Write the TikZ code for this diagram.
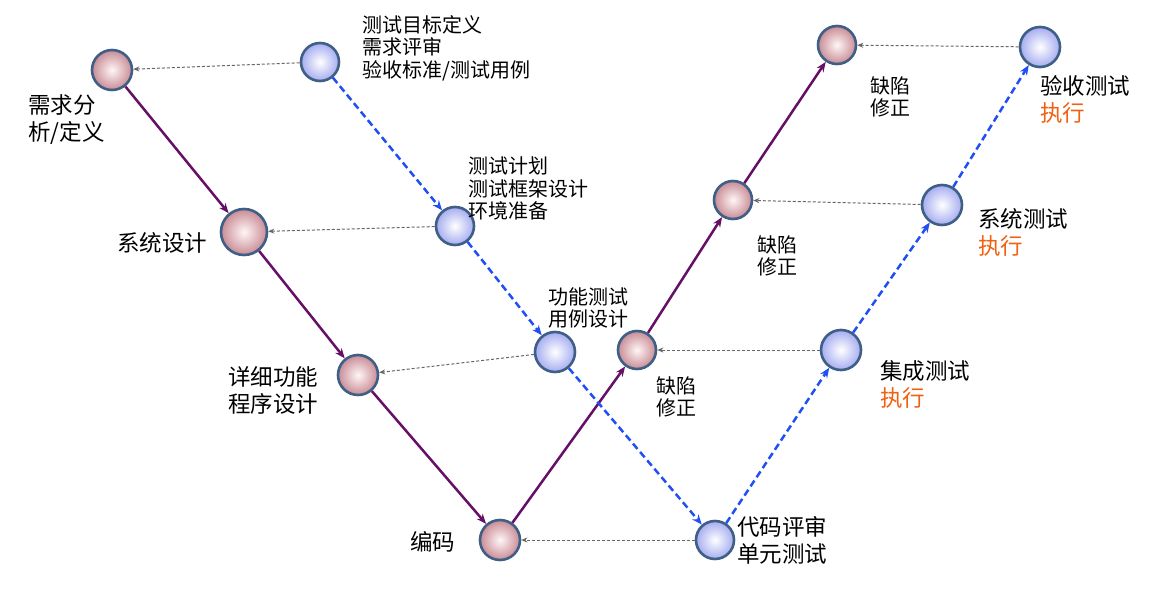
\documentclass[tikz,border=0pt]{standalone}
\usepackage{fontspec}
\newfontfamily\cjk{Noto Sans CJK SC}
\usetikzlibrary{arrows.meta}
\definecolor{purp}{HTML}{660F66}
\definecolor{bl}{HTML}{1F4FF5}
\definecolor{org}{HTML}{F06010}
\definecolor{rim}{HTML}{3F5F86}
\begin{document}
\begin{tikzpicture}[x=1pt,y=-1pt,
 ball/.style={circle,draw=rim,line width=2.6pt,minimum size=#1},
 pk/.style={ball=#1,inner color=white!85!pink,outer color={rgb,255:red,200;green,140;blue,150}},
 bu/.style={ball=#1,inner color=white,outer color={rgb,255:red,165;green,172;blue,240}},
 pa/.style={-{Stealth[length=10pt,width=8pt]},purp,line width=2.5pt},
 ba/.style={-{Stealth[length=10pt,width=8pt]},bl,line width=2.5pt,dash pattern=on 7pt off 4pt},
 ga/.style={-{Stealth[length=6pt,width=5pt]},gray!80!black,line width=1pt,dash pattern=on 3pt off 2pt},
 big/.style={font=\cjk\fontsize{22.5}{27}\selectfont,align=left,inner sep=0pt},
 sm/.style={font=\cjk\fontsize{20}{22.5}\selectfont,align=left,inner sep=0pt}]
\useasboundingbox (0,0) rectangle (1152,596);
\node[pk=40pt] (r1) at (112,70) {};
\node[pk=46pt] (r2) at (244,232) {};
\node[pk=40pt] (r3) at (358,375) {};
\node[pk=40pt] (r4) at (500,540) {};
\node[pk=38pt] (p1) at (637,350) {};
\node[pk=38pt] (p2) at (733,200) {};
\node[pk=38pt] (p3) at (837,45) {};
\node[bu=38pt] (b1) at (320,62) {};
\node[bu=38pt] (b2) at (455,226) {};
\node[bu=40pt] (b3) at (555,352) {};
\node[bu=38pt] (b4) at (715,540) {};
\node[bu=40pt] (b5) at (841,350) {};
\node[bu=40pt] (b6) at (942,205) {};
\node[bu=40pt] (b7) at (1040,47) {};
\draw[pa] (r1)--(r2); \draw[pa] (r2)--(r3); \draw[pa] (r3)--(r4);
\draw[pa] (r4)--(p1); \draw[pa] (p1)--(p2); \draw[pa] (p2)--(p3);
\draw[ba] (b1)--(b2); \draw[ba] (b2)--(b3); \draw[ba] (b3)--(b4);
\draw[ba] (b4)--(b5); \draw[ba] (b5)--(b6); \draw[ba] (b6)--(b7);
\draw[ga] (b1)--(r1); \draw[ga] (b2)--(r2); \draw[ga] (b3)--(r3);
\draw[ga] (b4)--(r4); \draw[ga] (b5)--(p1); \draw[ga] (b6)--(p2);
\draw[ga] (b7)--(p3);
\node[big,anchor=north west] (t1) at (28,94) {需求分\\析/定义};
\node[big,anchor=west] (t2) at (117,243) {系统设计};
\node[big,anchor=north west] (t3) at (228,366) {详细功能\\程序设计};
\node[big,anchor=west] (t4) at (410,542) {编码};
\node[sm,anchor=north west] (s1) at (362,15) {测试目标定义\\需求评审\\验收标准/测试用例};
\node[sm,anchor=north west] (s2) at (468,157) {测试计划\\测试框架设计\\环境准备};
\node[sm,anchor=north west] (s3) at (548,287) {功能测试\\用例设计};
\node[sm,anchor=north west] (d1) at (656,376) {缺陷\\修正};
\node[sm,anchor=north west] (d2) at (757,235) {缺陷\\修正};
\node[sm,anchor=north west] (d3) at (870,76) {缺陷\\修正};
\node[big,anchor=north west] (u) at (737,516) {代码评审\\单元测试};
\node[big,anchor=north west] (e1) at (880,360) {集成测试\\\textcolor{org}{执行}};
\node[big,anchor=north west] (e2) at (978,208) {系统测试\\\textcolor{org}{执行}};
\node[big,anchor=north west] (e3) at (1040,75) {验收测试\\\textcolor{org}{执行}};
\end{tikzpicture}
\end{document}
